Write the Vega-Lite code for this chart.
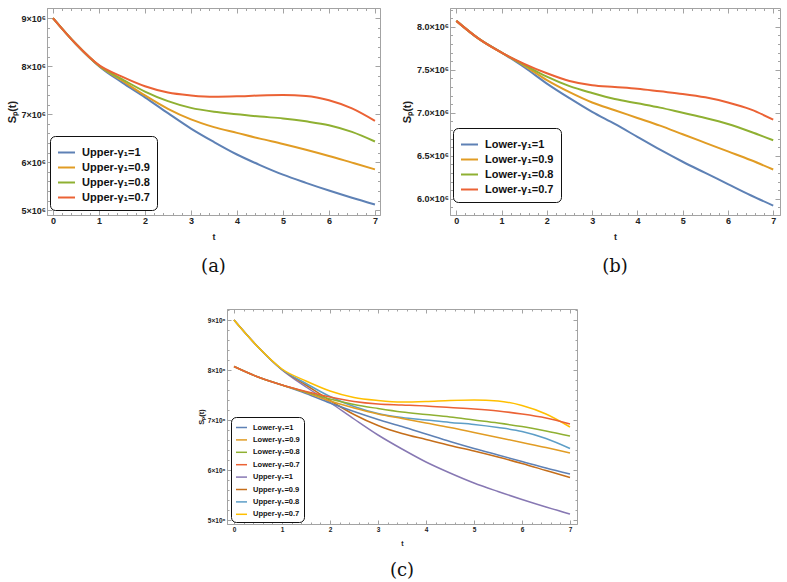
{
  "$schema": "https://vega.github.io/schema/vega-lite/v6.json",
  "padding": {"left": 5, "top": 3, "right": 0, "bottom": 0},
  "background": "white",
  "datasets": {
    "curves": [
      {"b":"Upper","g":"Upper-γ₁=1","t":0,"s":9000000},{"b":"Upper","g":"Upper-γ₁=1","t":0.5,"s":8460000},{"b":"Upper","g":"Upper-γ₁=1","t":1,"s":8000000},{"b":"Upper","g":"Upper-γ₁=1","t":1.5,"s":7660000},{"b":"Upper","g":"Upper-γ₁=1","t":2,"s":7350000},{"b":"Upper","g":"Upper-γ₁=1","t":2.5,"s":7020000},{"b":"Upper","g":"Upper-γ₁=1","t":3,"s":6700000},{"b":"Upper","g":"Upper-γ₁=1","t":3.5,"s":6420000},{"b":"Upper","g":"Upper-γ₁=1","t":4,"s":6160000},{"b":"Upper","g":"Upper-γ₁=1","t":4.5,"s":5940000},{"b":"Upper","g":"Upper-γ₁=1","t":5,"s":5740000},{"b":"Upper","g":"Upper-γ₁=1","t":5.5,"s":5570000},{"b":"Upper","g":"Upper-γ₁=1","t":6,"s":5410000},{"b":"Upper","g":"Upper-γ₁=1","t":6.5,"s":5260000},{"b":"Upper","g":"Upper-γ₁=1","t":7,"s":5120000},
      {"b":"Upper","g":"Upper-γ₁=0.9","t":0,"s":9000000},{"b":"Upper","g":"Upper-γ₁=0.9","t":0.5,"s":8460000},{"b":"Upper","g":"Upper-γ₁=0.9","t":1,"s":8010000},{"b":"Upper","g":"Upper-γ₁=0.9","t":1.5,"s":7700000},{"b":"Upper","g":"Upper-γ₁=0.9","t":2,"s":7390000},{"b":"Upper","g":"Upper-γ₁=0.9","t":2.5,"s":7110000},{"b":"Upper","g":"Upper-γ₁=0.9","t":3,"s":6890000},{"b":"Upper","g":"Upper-γ₁=0.9","t":3.5,"s":6730000},{"b":"Upper","g":"Upper-γ₁=0.9","t":4,"s":6610000},{"b":"Upper","g":"Upper-γ₁=0.9","t":4.5,"s":6490000},{"b":"Upper","g":"Upper-γ₁=0.9","t":5,"s":6380000},{"b":"Upper","g":"Upper-γ₁=0.9","t":5.5,"s":6260000},{"b":"Upper","g":"Upper-γ₁=0.9","t":6,"s":6130000},{"b":"Upper","g":"Upper-γ₁=0.9","t":6.5,"s":5990000},{"b":"Upper","g":"Upper-γ₁=0.9","t":7,"s":5850000},
      {"b":"Upper","g":"Upper-γ₁=0.8","t":0,"s":9000000},{"b":"Upper","g":"Upper-γ₁=0.8","t":0.5,"s":8460000},{"b":"Upper","g":"Upper-γ₁=0.8","t":1,"s":8010000},{"b":"Upper","g":"Upper-γ₁=0.8","t":1.5,"s":7730000},{"b":"Upper","g":"Upper-γ₁=0.8","t":2,"s":7470000},{"b":"Upper","g":"Upper-γ₁=0.8","t":2.5,"s":7270000},{"b":"Upper","g":"Upper-γ₁=0.8","t":3,"s":7130000},{"b":"Upper","g":"Upper-γ₁=0.8","t":3.5,"s":7050000},{"b":"Upper","g":"Upper-γ₁=0.8","t":4,"s":7000000},{"b":"Upper","g":"Upper-γ₁=0.8","t":4.5,"s":6950000},{"b":"Upper","g":"Upper-γ₁=0.8","t":5,"s":6910000},{"b":"Upper","g":"Upper-γ₁=0.8","t":5.5,"s":6850000},{"b":"Upper","g":"Upper-γ₁=0.8","t":6,"s":6770000},{"b":"Upper","g":"Upper-γ₁=0.8","t":6.5,"s":6630000},{"b":"Upper","g":"Upper-γ₁=0.8","t":7,"s":6430000},
      {"b":"Upper","g":"Upper-γ₁=0.7","t":0,"s":9000000},{"b":"Upper","g":"Upper-γ₁=0.7","t":0.5,"s":8460000},{"b":"Upper","g":"Upper-γ₁=0.7","t":1,"s":8020000},{"b":"Upper","g":"Upper-γ₁=0.7","t":1.5,"s":7780000},{"b":"Upper","g":"Upper-γ₁=0.7","t":2,"s":7580000},{"b":"Upper","g":"Upper-γ₁=0.7","t":2.5,"s":7450000},{"b":"Upper","g":"Upper-γ₁=0.7","t":3,"s":7390000},{"b":"Upper","g":"Upper-γ₁=0.7","t":3.5,"s":7360000},{"b":"Upper","g":"Upper-γ₁=0.7","t":4,"s":7370000},{"b":"Upper","g":"Upper-γ₁=0.7","t":4.5,"s":7390000},{"b":"Upper","g":"Upper-γ₁=0.7","t":5,"s":7400000},{"b":"Upper","g":"Upper-γ₁=0.7","t":5.5,"s":7380000},{"b":"Upper","g":"Upper-γ₁=0.7","t":6,"s":7290000},{"b":"Upper","g":"Upper-γ₁=0.7","t":6.5,"s":7120000},{"b":"Upper","g":"Upper-γ₁=0.7","t":7,"s":6860000},
      {"b":"Lower","g":"Lower-γ₁=1","t":0,"s":8070000},{"b":"Lower","g":"Lower-γ₁=1","t":0.5,"s":7860000},{"b":"Lower","g":"Lower-γ₁=1","t":1,"s":7700000},{"b":"Lower","g":"Lower-γ₁=1","t":1.5,"s":7530000},{"b":"Lower","g":"Lower-γ₁=1","t":2,"s":7340000},{"b":"Lower","g":"Lower-γ₁=1","t":2.5,"s":7170000},{"b":"Lower","g":"Lower-γ₁=1","t":3,"s":7010000},{"b":"Lower","g":"Lower-γ₁=1","t":3.5,"s":6870000},{"b":"Lower","g":"Lower-γ₁=1","t":4,"s":6720000},{"b":"Lower","g":"Lower-γ₁=1","t":4.5,"s":6570000},{"b":"Lower","g":"Lower-γ₁=1","t":5,"s":6430000},{"b":"Lower","g":"Lower-γ₁=1","t":5.5,"s":6300000},{"b":"Lower","g":"Lower-γ₁=1","t":6,"s":6170000},{"b":"Lower","g":"Lower-γ₁=1","t":6.5,"s":6040000},{"b":"Lower","g":"Lower-γ₁=1","t":7,"s":5920000},
      {"b":"Lower","g":"Lower-γ₁=0.9","t":0,"s":8070000},{"b":"Lower","g":"Lower-γ₁=0.9","t":0.5,"s":7860000},{"b":"Lower","g":"Lower-γ₁=0.9","t":1,"s":7700000},{"b":"Lower","g":"Lower-γ₁=0.9","t":1.5,"s":7550000},{"b":"Lower","g":"Lower-γ₁=0.9","t":2,"s":7380000},{"b":"Lower","g":"Lower-γ₁=0.9","t":2.5,"s":7240000},{"b":"Lower","g":"Lower-γ₁=0.9","t":3,"s":7120000},{"b":"Lower","g":"Lower-γ₁=0.9","t":3.5,"s":7030000},{"b":"Lower","g":"Lower-γ₁=0.9","t":4,"s":6940000},{"b":"Lower","g":"Lower-γ₁=0.9","t":4.5,"s":6850000},{"b":"Lower","g":"Lower-γ₁=0.9","t":5,"s":6750000},{"b":"Lower","g":"Lower-γ₁=0.9","t":5.5,"s":6650000},{"b":"Lower","g":"Lower-γ₁=0.9","t":6,"s":6550000},{"b":"Lower","g":"Lower-γ₁=0.9","t":6.5,"s":6450000},{"b":"Lower","g":"Lower-γ₁=0.9","t":7,"s":6340000},
      {"b":"Lower","g":"Lower-γ₁=0.8","t":0,"s":8070000},{"b":"Lower","g":"Lower-γ₁=0.8","t":0.5,"s":7860000},{"b":"Lower","g":"Lower-γ₁=0.8","t":1,"s":7700000},{"b":"Lower","g":"Lower-γ₁=0.8","t":1.5,"s":7560000},{"b":"Lower","g":"Lower-γ₁=0.8","t":2,"s":7420000},{"b":"Lower","g":"Lower-γ₁=0.8","t":2.5,"s":7310000},{"b":"Lower","g":"Lower-γ₁=0.8","t":3,"s":7230000},{"b":"Lower","g":"Lower-γ₁=0.8","t":3.5,"s":7160000},{"b":"Lower","g":"Lower-γ₁=0.8","t":4,"s":7110000},{"b":"Lower","g":"Lower-γ₁=0.8","t":4.5,"s":7060000},{"b":"Lower","g":"Lower-γ₁=0.8","t":5,"s":7000000},{"b":"Lower","g":"Lower-γ₁=0.8","t":5.5,"s":6940000},{"b":"Lower","g":"Lower-γ₁=0.8","t":6,"s":6870000},{"b":"Lower","g":"Lower-γ₁=0.8","t":6.5,"s":6780000},{"b":"Lower","g":"Lower-γ₁=0.8","t":7,"s":6680000},
      {"b":"Lower","g":"Lower-γ₁=0.7","t":0,"s":8070000},{"b":"Lower","g":"Lower-γ₁=0.7","t":0.5,"s":7860000},{"b":"Lower","g":"Lower-γ₁=0.7","t":1,"s":7700000},{"b":"Lower","g":"Lower-γ₁=0.7","t":1.5,"s":7570000},{"b":"Lower","g":"Lower-γ₁=0.7","t":2,"s":7460000},{"b":"Lower","g":"Lower-γ₁=0.7","t":2.5,"s":7370000},{"b":"Lower","g":"Lower-γ₁=0.7","t":3,"s":7320000},{"b":"Lower","g":"Lower-γ₁=0.7","t":3.5,"s":7300000},{"b":"Lower","g":"Lower-γ₁=0.7","t":4,"s":7280000},{"b":"Lower","g":"Lower-γ₁=0.7","t":4.5,"s":7250000},{"b":"Lower","g":"Lower-γ₁=0.7","t":5,"s":7220000},{"b":"Lower","g":"Lower-γ₁=0.7","t":5.5,"s":7180000},{"b":"Lower","g":"Lower-γ₁=0.7","t":6,"s":7120000},{"b":"Lower","g":"Lower-γ₁=0.7","t":6.5,"s":7040000},{"b":"Lower","g":"Lower-γ₁=0.7","t":7,"s":6920000}
    ]
  },
  "config": {
    "view": {"stroke": "#a3a3a3", "strokeWidth": 1},
    "axis": {"domainColor": "#a3a3a3", "tickColor": "#a3a3a3", "grid": false, "labelFont": "Liberation Sans", "labelFontWeight": "bold", "labelColor": "#222222", "titleFont": "Liberation Sans", "titleFontWeight": "bold", "titleColor": "#222222", "labelFlush": false, "labelOverlap": false},
    "title": {"font": "DejaVu Serif", "fontWeight": "normal", "color": "#111111", "orient": "bottom", "anchor": "middle"},
    "legend": {"strokeColor": "#111111", "fillColor": "white", "cornerRadius": 5, "symbolType": "stroke", "labelFont": "Liberation Sans", "labelFontWeight": "bold", "labelColor": "#111111"}
  },
  "resolve": {"scale": {"color": "independent"}, "legend": {"color": "independent"}},
  "spacing": 30,
  "vconcat": [
    {
      "hconcat": [
        {
          "width": 333, "height": 207,
          "data": {"name": "curves"},
          "transform": [{"filter": "datum.b === 'Upper'"}],
          "title": {"text": "(a)", "fontSize": 18, "offset": 16},
          "resolve": {"axis": {"x": "independent", "y": "independent"}},
          "layer": [
            {
              "mark": {"type": "line", "interpolate": "monotone", "strokeWidth": 2},
              "encoding": {
                "x": {"field": "t", "type": "quantitative", "scale": {"domain": [-0.13, 7.11], "nice": false, "zero": false},
                  "axis": {"title": "t", "values": [0,0.2,0.4,0.6,0.8,1,1.2,1.4,1.6,1.8,2,2.2,2.4,2.6,2.8,3,3.2,3.4,3.6,3.8,4,4.2,4.4,4.6,4.8,5,5.2,5.4,5.6,5.8,6,6.2,6.4,6.6,6.8,7],
                    "labelExpr": "round(datum.value) === datum.value ? format(datum.value, 'd') : ''",
                    "tickSize": {"condition": {"test": "round(datum.value) === datum.value", "value": -5}, "value": -2.5},
                    "labelPadding": 6, "labelFontSize": 9, "titleFontSize": 9, "titlePadding": 5}},
                "y": {"field": "s", "type": "quantitative", "scale": {"domain": [4900000, 9210000], "nice": false, "zero": false},
                  "axis": {"title": "Sₚ(t)", "values": [5000000,5200000,5400000,5600000,5800000,6000000,6200000,6400000,6600000,6800000,7000000,7200000,7400000,7600000,7800000,8000000,8200000,8400000,8600000,8800000,9000000,9200000],
                    "labelExpr": "datum.value % 1000000 === 0 ? format(datum.value / 1000000, 'd') + '×10⁶' : ''",
                    "tickSize": {"condition": {"test": "datum.value % 1000000 === 0", "value": -5}, "value": -2.5},
                    "labelPadding": 6.5, "labelFontSize": 9, "titleFontSize": 11, "titlePadding": 4}},
                "color": {"field": "g", "type": "nominal",
                  "scale": {"domain": ["Upper-γ₁=1","Upper-γ₁=0.9","Upper-γ₁=0.8","Upper-γ₁=0.7"], "range": ["#5E81B5","#E19C24","#8FB032","#EB6235"]},
                  "legend": {"title": null, "orient": "none", "legendX": 3, "legendY": 128, "padding": 7, "symbolSize": 289, "symbolStrokeWidth": 2, "labelFontSize": 11, "rowPadding": 0, "labelOffset": 6}}
              }
            },
            {
              "mark": {"type": "line", "opacity": 0},
              "encoding": {
                "x": {"field": "t", "type": "quantitative", "scale": {"domain": [-0.13, 7.11], "nice": false, "zero": false},
                  "axis": {"orient": "top", "title": null, "labels": false, "domain": false, "values": [0,0.2,0.4,0.6,0.8,1,1.2,1.4,1.6,1.8,2,2.2,2.4,2.6,2.8,3,3.2,3.4,3.6,3.8,4,4.2,4.4,4.6,4.8,5,5.2,5.4,5.6,5.8,6,6.2,6.4,6.6,6.8,7],
                    "tickSize": {"condition": {"test": "round(datum.value) === datum.value", "value": -5}, "value": -2.5}}},
                "y": {"field": "s", "type": "quantitative", "scale": {"domain": [4900000, 9210000], "nice": false, "zero": false},
                  "axis": {"orient": "right", "title": null, "labels": false, "domain": false, "values": [5000000,5200000,5400000,5600000,5800000,6000000,6200000,6400000,6600000,6800000,7000000,7200000,7400000,7600000,7800000,8000000,8200000,8400000,8600000,8800000,9000000,9200000],
                    "tickSize": {"condition": {"test": "datum.value % 1000000 === 0", "value": -5}, "value": -2.5}}},
                "detail": {"field": "g"}
              }
            }
          ]
        },
        {
          "width": 330, "height": 207,
          "data": {"name": "curves"},
          "transform": [{"filter": "datum.b === 'Lower'"}],
          "title": {"text": "(b)", "fontSize": 18, "offset": 16},
          "resolve": {"axis": {"x": "independent", "y": "independent"}},
          "layer": [
            {
              "mark": {"type": "line", "interpolate": "monotone", "strokeWidth": 2},
              "encoding": {
                "x": {"field": "t", "type": "quantitative", "scale": {"domain": [-0.14, 7.15], "nice": false, "zero": false},
                  "axis": {"title": "t", "values": [0,0.2,0.4,0.6,0.8,1,1.2,1.4,1.6,1.8,2,2.2,2.4,2.6,2.8,3,3.2,3.4,3.6,3.8,4,4.2,4.4,4.6,4.8,5,5.2,5.4,5.6,5.8,6,6.2,6.4,6.6,6.8,7],
                    "labelExpr": "round(datum.value) === datum.value ? format(datum.value, 'd') : ''",
                    "tickSize": {"condition": {"test": "round(datum.value) === datum.value", "value": -5}, "value": -2.5},
                    "labelPadding": 6, "labelFontSize": 9, "titleFontSize": 9, "titlePadding": 5}},
                "y": {"field": "s", "type": "quantitative", "scale": {"domain": [5810000, 8220000], "nice": false, "zero": false},
                  "axis": {"title": "Sₚ(t)", "values": [5900000,6000000,6100000,6200000,6300000,6400000,6500000,6600000,6700000,6800000,6900000,7000000,7100000,7200000,7300000,7400000,7500000,7600000,7700000,7800000,7900000,8000000,8100000,8200000],
                    "labelExpr": "datum.value % 500000 === 0 ? format(datum.value / 1000000, '.1f') + '×10⁶' : ''",
                    "tickSize": {"condition": {"test": "datum.value % 500000 === 0", "value": -5}, "value": -2.5},
                    "labelPadding": 6.5, "labelFontSize": 9, "titleFontSize": 11, "titlePadding": 4}},
                "color": {"field": "g", "type": "nominal",
                  "scale": {"domain": ["Lower-γ₁=1","Lower-γ₁=0.9","Lower-γ₁=0.8","Lower-γ₁=0.7"], "range": ["#5E81B5","#E19C24","#8FB032","#EB6235"]},
                  "legend": {"title": null, "orient": "none", "legendX": 3, "legendY": 120, "padding": 7, "symbolSize": 289, "symbolStrokeWidth": 2, "labelFontSize": 11, "rowPadding": 0, "labelOffset": 6}}
              }
            },
            {
              "mark": {"type": "line", "opacity": 0},
              "encoding": {
                "x": {"field": "t", "type": "quantitative", "scale": {"domain": [-0.14, 7.15], "nice": false, "zero": false},
                  "axis": {"orient": "top", "title": null, "labels": false, "domain": false, "values": [0,0.2,0.4,0.6,0.8,1,1.2,1.4,1.6,1.8,2,2.2,2.4,2.6,2.8,3,3.2,3.4,3.6,3.8,4,4.2,4.4,4.6,4.8,5,5.2,5.4,5.6,5.8,6,6.2,6.4,6.6,6.8,7],
                    "tickSize": {"condition": {"test": "round(datum.value) === datum.value", "value": -5}, "value": -2.5}}},
                "y": {"field": "s", "type": "quantitative", "scale": {"domain": [5810000, 8220000], "nice": false, "zero": false},
                  "axis": {"orient": "right", "title": null, "labels": false, "domain": false, "values": [5900000,6000000,6100000,6200000,6300000,6400000,6500000,6600000,6700000,6800000,6900000,7000000,7100000,7200000,7300000,7400000,7500000,7600000,7700000,7800000,7900000,8000000,8100000,8200000],
                    "tickSize": {"condition": {"test": "datum.value % 500000 === 0", "value": -5}, "value": -2.5}}},
                "detail": {"field": "g"}
              }
            }
          ]
        }
      ],
      "bounds": "flush",
      "spacing": 70,
      "resolve": {"scale": {"color": "independent"}, "legend": {"color": "independent"}}
    },
    {
      "hconcat": [
        {
          "width": 180, "height": 215,
          "view": {"stroke": null},
          "data": {"values": []},
          "mark": "point"
        },
        {
          "width": 350, "height": 215,
          "data": {"name": "curves"},
          "title": {"text": "(c)", "fontSize": 18, "offset": 16},
          "resolve": {"axis": {"x": "independent", "y": "independent"}},
          "layer": [
            {
              "mark": {"type": "line", "interpolate": "monotone", "strokeWidth": 1.5},
              "encoding": {
                "x": {"field": "t", "type": "quantitative", "scale": {"domain": [-0.146, 7.146], "nice": false, "zero": false},
                  "axis": {"title": "t", "values": [0,0.2,0.4,0.6,0.8,1,1.2,1.4,1.6,1.8,2,2.2,2.4,2.6,2.8,3,3.2,3.4,3.6,3.8,4,4.2,4.4,4.6,4.8,5,5.2,5.4,5.6,5.8,6,6.2,6.4,6.6,6.8,7],
                    "labelExpr": "round(datum.value) === datum.value ? format(datum.value, 'd') : ''",
                    "tickSize": {"condition": {"test": "round(datum.value) === datum.value", "value": -4}, "value": -2},
                    "labelPadding": 6.5, "labelFontSize": 6.5, "titleFontSize": 7, "titlePadding": 4}},
                "y": {"field": "s", "type": "quantitative", "scale": {"domain": [4920000, 9220000], "nice": false, "zero": false},
                  "axis": {"title": "Sₚ(t)", "values": [5000000,5200000,5400000,5600000,5800000,6000000,6200000,6400000,6600000,6800000,7000000,7200000,7400000,7600000,7800000,8000000,8200000,8400000,8600000,8800000,9000000,9200000],
                    "labelExpr": "datum.value % 1000000 === 0 ? format(datum.value / 1000000, 'd') + '×10⁶' : ''",
                    "tickSize": {"condition": {"test": "datum.value % 1000000 === 0", "value": -4}, "value": -2},
                    "labelPadding": 6, "labelFontSize": 6.5, "titleFontSize": 7.5, "titlePadding": 2}},
                "color": {"field": "g", "type": "nominal",
                  "scale": {"domain": ["Lower-γ₁=1","Lower-γ₁=0.9","Lower-γ₁=0.8","Lower-γ₁=0.7","Upper-γ₁=1","Upper-γ₁=0.9","Upper-γ₁=0.8","Upper-γ₁=0.7"],
                    "range": ["#5E81B5","#E19C24","#8FB032","#EB6235","#8778B3","#C56E1A","#5D9EC7","#FFBF00"]},
                  "legend": {"title": null, "orient": "none", "legendX": 4, "legendY": 108, "padding": 4, "symbolSize": 121, "symbolStrokeWidth": 1.5, "labelFontSize": 7.5, "rowPadding": 2.4, "labelOffset": 5}}
              }
            },
            {
              "mark": {"type": "line", "opacity": 0},
              "encoding": {
                "x": {"field": "t", "type": "quantitative", "scale": {"domain": [-0.146, 7.146], "nice": false, "zero": false},
                  "axis": {"orient": "top", "title": null, "labels": false, "domain": false, "values": [0,0.2,0.4,0.6,0.8,1,1.2,1.4,1.6,1.8,2,2.2,2.4,2.6,2.8,3,3.2,3.4,3.6,3.8,4,4.2,4.4,4.6,4.8,5,5.2,5.4,5.6,5.8,6,6.2,6.4,6.6,6.8,7],
                    "tickSize": {"condition": {"test": "round(datum.value) === datum.value", "value": -4}, "value": -2}}},
                "y": {"field": "s", "type": "quantitative", "scale": {"domain": [4920000, 9220000], "nice": false, "zero": false},
                  "axis": {"orient": "right", "title": null, "labels": false, "domain": false, "values": [5000000,5200000,5400000,5600000,5800000,6000000,6200000,6400000,6600000,6800000,7000000,7200000,7400000,7600000,7800000,8000000,8200000,8400000,8600000,8800000,9000000,9200000],
                    "tickSize": {"condition": {"test": "datum.value % 1000000 === 0", "value": -4}, "value": -2}}},
                "detail": {"field": "g"}
              }
            }
          ]
        }
      ],
      "bounds": "flush",
      "spacing": 0,
      "resolve": {"scale": {"color": "independent"}, "legend": {"color": "independent"}}
    }
  ]
}
